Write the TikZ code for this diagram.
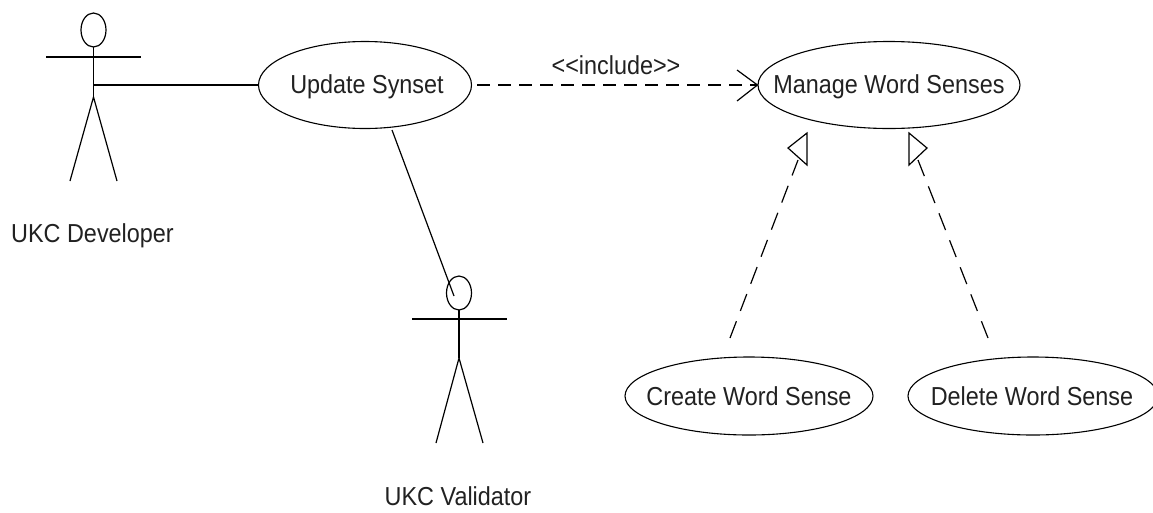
\documentclass[tikz,border=0pt]{standalone}
\usepackage{fontspec}
\setmainfont[FakeStretch=0.9]{Liberation Sans}
\usetikzlibrary{shapes.geometric}
\definecolor{inkgray}{gray}{0.13}
\tikzset{
  usecase/.style={draw,ellipse,line width=1.1pt},
  label/.style={font=\fontsize{26}{30}\selectfont,inner sep=0pt,text=inkgray},
  dashline/.style={line width=1.2pt,dash pattern=on 13pt off 8pt},
  dashlong/.style={line width=1.2pt,dash pattern=on 18pt off 11pt}
}
\begin{document}
\begin{tikzpicture}[x=1pt,y=-1pt,line width=1.2pt]
   \useasboundingbox (0,0) rectangle (1153,512);
   % use cases
   \node [usecase,minimum width=213,minimum height=87] (update) at (365,85) {};
   \node [label] at (367,87) {Update Synset};
   \node [usecase,minimum width=262,minimum height=87] (manage) at (889,85) {};
   \node [label] at (889,87) {Manage Word Senses};
   \node [usecase,minimum width=248,minimum height=78] (create) at (749,396) {};
   \node [label] at (749,396) {Create Word Sense};
   \node [usecase,minimum width=250,minimum height=78] (delete) at (1033,396) {};
   \node [label] at (1032,396) {Delete Word Sense};
   % first actor
   \draw (93.5,30) circle [x radius=12.5,y radius=17];
   \draw (93.5,47) -- (93.5,97);
   \draw (46,57) -- (141,57);
   \draw (70,181) -- (93.5,97) -- (117,181);
   \node [label] (dev) at (92.5,236) {UKC Developer};
   % second actor
   \draw (459,293) circle [x radius=12.5,y radius=17];
   \draw (459,310) -- (459,358);
   \draw (412,319) -- (507,319);
   \draw (436,443) -- (459,358) -- (483,443);
   \node [label] (val) at (458,496) {UKC Validator};
   % connectors
   \coordinate (devhand) at (93,85);
   \coordinate (valhead) at (454,296);
   \draw [line width=1.6pt] (devhand) -- (update.west);
   \draw (392,130) -- (valhead);
   \coordinate (inctip) at (manage.west);
   \draw [dashline] (update.east) ++(5,0) -- (inctip);
   \draw (737,70) -- (inctip) -- (737,101);
   \node [label] at (616,65) {<{}<include>{}>};
   \draw [dashlong] (730,338) -- (798,160);
   \draw (807,133) -- (788,148) -- (807,165) -- cycle;
   \draw [dashlong] (988,338) -- (918,160);
   \draw (909,133) -- (927,148) -- (909,165) -- cycle;
 \end{tikzpicture}
\end{document}
